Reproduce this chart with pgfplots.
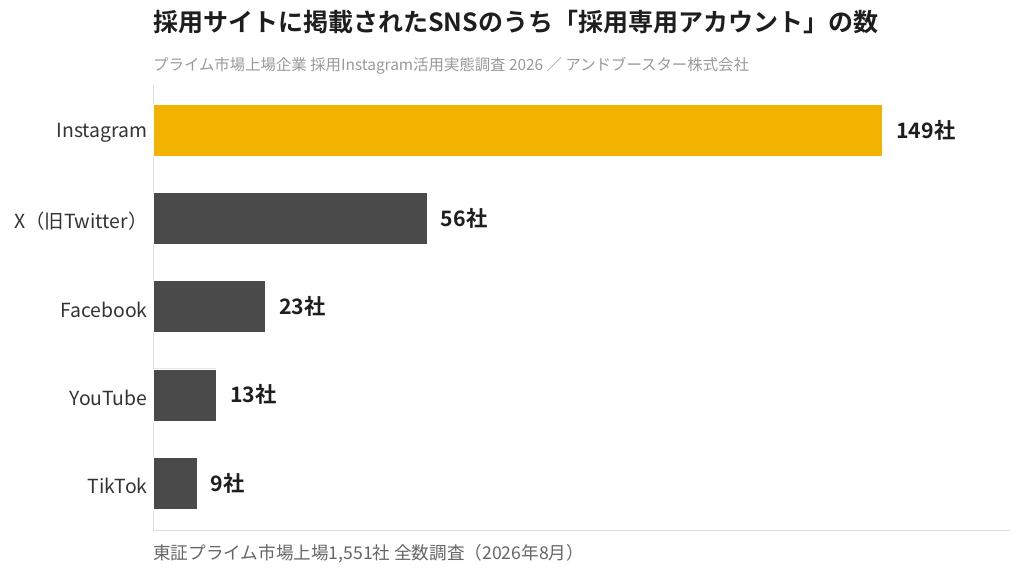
\documentclass[border=0pt]{standalone}
\usepackage{pgfplots}
\pgfplotsset{compat=1.18}
\usepackage{fontspec}
\setmainfont{Noto Sans CJK JP}[BoldFont={Noto Sans CJK JP Bold}]
\definecolor{insta}{HTML}{F2B300}
\definecolor{darkbar}{HTML}{4A4A4A}
\definecolor{axisgray}{HTML}{DDDDDD}
\definecolor{titlec}{HTML}{1E1E1E}
\definecolor{subc}{HTML}{999999}
\definecolor{footc}{HTML}{666666}
\definecolor{labc}{HTML}{333333}
\begin{document}
\begin{tikzpicture}
\path[use as bounding box] (0,0) rectangle (1024pt,581pt);
\node[anchor=west, inner sep=0pt, text=titlec, font=\fontsize{25}{30}\selectfont\bfseries] at (153pt,559pt) {採用サイトに掲載されたSNSのうち「採用専用アカウント」の数};
\node[anchor=west, inner sep=0pt, text=subc, font=\fontsize{15.4}{18}\selectfont] at (153pt,515pt) {プライム市場上場企業 採用Instagram活用実態調査 2026 ／ アンドブースター株式会社};
\node[anchor=west, inner sep=0pt, text=footc, font=\fontsize{17.6}{21}\selectfont] at (153pt,27pt) {東証プライム市場上場1,551社 全数調査（2026年8月）};
\begin{axis}[
  at={(153pt,51pt)}, anchor=south west,
  width=857pt, height=445pt, scale only axis,
  xmin=0, xmax=175, ymin=-0.53, ymax=4.51,
  axis x line*=bottom, axis y line*=left,
  axis line style={axisgray, line width=1pt, -},
  xtick=\empty,
  ytick={0,1,2,3,4},
  yticklabels={TikTok, YouTube, Facebook, X（旧Twitter）, Instagram},
  major tick length=0pt,
  yticklabel style={text=labc, font=\fontsize{19.4}{23}\selectfont, xshift=-2pt, yshift=-3pt},
  xbar, bar width=52pt, bar shift=0pt,
  /pgf/number format/assume math mode=true,
  nodes near coords={\pgfmathprintnumber{\pgfplotspointmeta}社},
  point meta=x,
  nodes near coords style={anchor=west, text=titlec, font=\fontsize{21.3}{25}\selectfont\bfseries, xshift=10pt},
  clip=false,
]
\addplot[fill=insta, draw=white, line width=0.6pt] coordinates {(149,4)};
\addplot[fill=darkbar, draw=white, line width=0.6pt] coordinates {(56,3) (23,2) (13,1) (9,0)};
\end{axis}
\end{tikzpicture}
\end{document}
